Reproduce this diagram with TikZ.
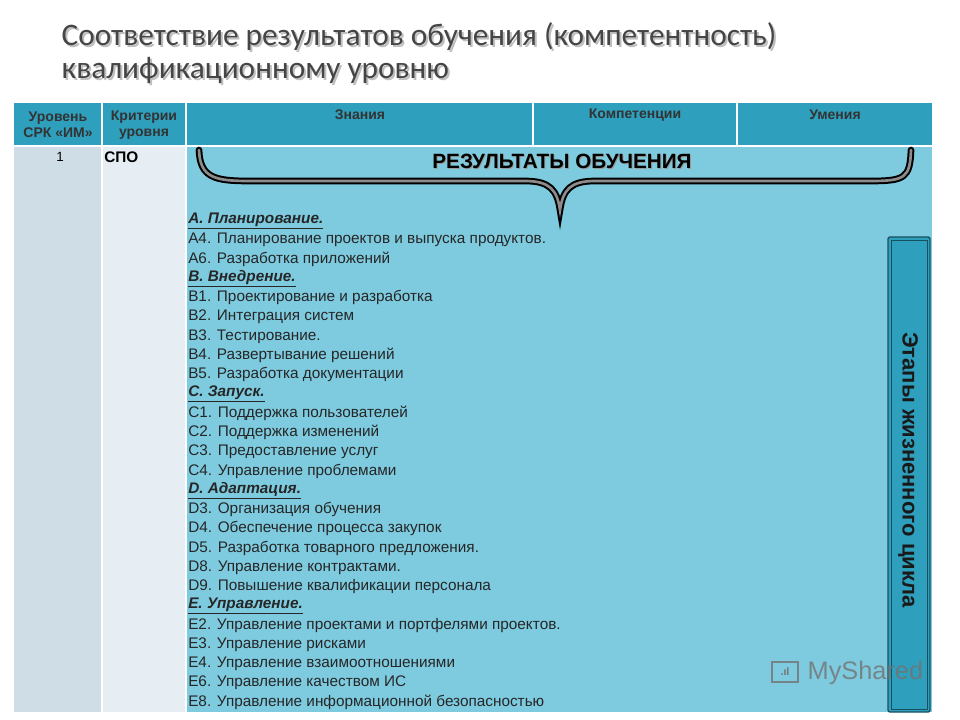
\documentclass[tikz,border=0pt]{standalone}
\usepackage{fontspec}
\setmainfont{Liberation Sans}
\newfontfamily\titlefont{Carlito}
\definecolor{hdr}{HTML}{2E9FBD}
\definecolor{body}{HTML}{7ECBE0}
\definecolor{colA}{HTML}{CFDDE6}
\definecolor{colB}{HTML}{E7EEF3}
\definecolor{ttl}{HTML}{454545}
\tikzset{x=0.75pt,y=-0.75pt,
 hd/.style={font=\fontsize{10.5}{12}\selectfont\bfseries,text=black!80,align=center},
 item/.style={anchor=west,font=\fontsize{11.5}{12}\selectfont,text=black!85,inner sep=0pt},
 ttlstyle/.style={anchor=west,font=\titlefont\fontsize{23.5}{26}\selectfont}}
\newcommand{\hh}[1]{\underline{\textbf{\textit{#1}}}}
\begin{document}
\begin{tikzpicture}
\useasboundingbox (0,0) rectangle (960,720);
\fill[white] (0,0) rectangle (960,720);
% title
\node[ttlstyle,text=black!25] (t1s) at (59,39) {Соответствие результатов обучения (компетентность)};
\node[ttlstyle,text=ttl] (t1) at (57,37) {Соответствие результатов обучения (компетентность)};
\node[ttlstyle,text=black!25] (t2s) at (59,72) {квалификационному уровню};
\node[ttlstyle,text=ttl] (t2) at (57,70) {квалификационному уровню};
% table
\fill[hdr] (14,103) rectangle (932,145);
\fill[colA] (14,147) rectangle (101,712);
\fill[colB] (103,147) rectangle (185,712);
\fill[body] (187,147) rectangle (932,712);
\draw[white,line width=1.5pt] (102,103)--(102,145) (186,103)--(186,145) (533,103)--(533,145) (737,103)--(737,145);
\node[hd] (h1) at (58,125) {Уровень\\СРК «ИМ»};
\node[hd] (h2) at (144,125) {Критерии\\уровня};
\node[hd] (h3) at (360,115) {Знания};
\node[hd] (h4) at (635,115) {Компетенции};
\node[hd] (h5) at (835,115) {Умения};
\node[font=\fontsize{10}{11}\selectfont] (n1) at (60,157) {1};
\node[anchor=west,font=\fontsize{11.5}{12}\selectfont\bfseries,inner sep=0pt] (spo) at (104,157) {СПО};
% brace
\foreach \w/\c in {5/black,2/black!45}{
\draw[line width=\w pt,\c,line cap=round] (199,150) .. controls (200,178) and (215,181) .. (250,181) -- (525,181) .. controls (550,181) and (557,190) .. (560,210) .. controls (563,190) and (570,181) .. (595,181) -- (870,181) .. controls (905,181) and (910,178) .. (911,150);}
\node[font=\fontsize{15.5}{17}\selectfont\bfseries,text=black!40] (rs) at (563,162) {РЕЗУЛЬТАТЫ ОБУЧЕНИЯ};
\node[font=\fontsize{15.5}{17}\selectfont\bfseries] (r) at (562,161) {РЕЗУЛЬТАТЫ ОБУЧЕНИЯ};
% list
\foreach \t [count=\i from 0] in {\hh{A. Планирование.},A4. Планирование проектов и выпуска продуктов.,A6. Разработка приложений,\hh{B. Внедрение.},B1. Проектирование и разработка,B2. Интеграция систем,B3. Тестирование.,B4. Развертывание решений,B5. Разработка документации,\hh{C. Запуск.},C1. Поддержка пользователей,C2. Поддержка изменений,C3. Предоставление услуг,C4. Управление проблемами,\hh{D. Адаптация.},D3. Организация обучения,D4. Обеспечение процесса закупок,D5. Разработка товарного предложения.,D8. Управление контрактами.,D9. Повышение квалификации персонала,\hh{E. Управление.},E2. Управление проектами и портфелями проектов.,E3. Управление рисками,E4. Управление взаимоотношениями,E6. Управление качеством ИС,E8. Управление информационной безопасностью}
 \node[item] (L\i) at (188,{221+19.24*\i}) {\t};
% side box
\draw[fill=hdr,draw=black!50!hdr,line width=1pt,rounded corners=1.5pt] (888,237) rectangle (930,712);
\draw[black!50!hdr,line width=0.4pt] (891,240) rectangle (927,709);
\node[rotate=-90,font=\fontsize{16.5}{18}\selectfont\bfseries,text=black!90] (side) at (908,470) {Этапы жизненного цикла};
% watermark
\node[anchor=west,font=\fontsize{19}{22}\selectfont,text=black!55,opacity=0.8] (wm) at (803,673) {MyShared};
\draw[black!55,line width=1.5pt,opacity=0.8] (772,662) rectangle (798,682);
\node[font=\fontsize{8}{9}\selectfont\bfseries,text=black!55] (wmi) at (785,672) {.ıl};
\end{tikzpicture}
\end{document}
